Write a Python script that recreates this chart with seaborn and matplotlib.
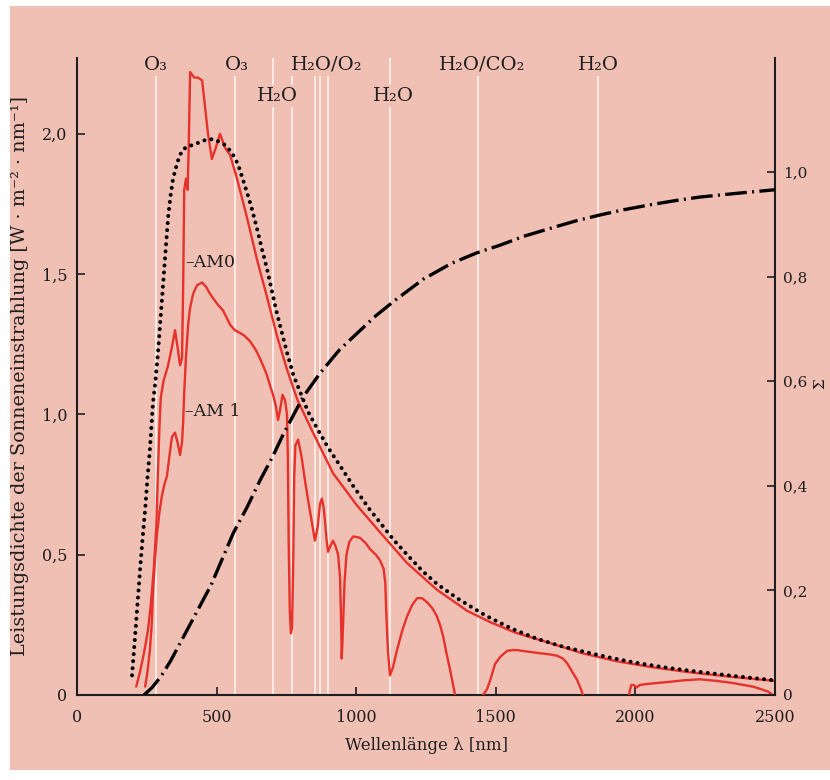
import numpy as np
import pandas as pd
import seaborn as sns
import matplotlib.pyplot as plt
from matplotlib.patches import Rectangle

# --- Daten ---
# AM0 Spektrum (nm, W m^-2 nm^-1)
am0_nm = [212, 225, 240, 254, 265, 275, 284, 290, 295, 300, 310, 325, 340, 351, 360, 369, 376, 380,
          384, 390, 396, 400, 405, 420, 433, 448, 458, 469, 483, 497, 512, 530, 548, 573, 609, 645,
          680, 716, 752, 790, 845, 917, 1003, 1085, 1182, 1289, 1397, 1479, 1570, 1694, 1812, 1934,
          2052, 2200, 2350, 2500]
am0_val = [0.03, 0.08, 0.15, 0.23, 0.33, 0.45, 0.60, 0.80, 0.95, 1.06, 1.12, 1.17, 1.24, 1.30, 1.24,
           1.175, 1.20, 1.45, 1.80, 1.84, 1.80, 1.95, 2.22, 2.20, 2.20, 2.19, 2.10, 2.00, 1.91, 1.95,
           2.00, 1.95, 1.925, 1.84, 1.70, 1.55, 1.42, 1.28, 1.16, 1.05, 0.935, 0.79, 0.675, 0.58,
           0.47, 0.375, 0.30, 0.26, 0.222, 0.185, 0.148, 0.12, 0.10, 0.08, 0.064, 0.05]

# AM1 Spektrum, drei Abschnitte (Absorptionsluecken dazwischen)
am1_nm_1 = [244, 252, 261, 268, 272, 279, 286, 295, 304, 313, 322, 332, 340, 351, 360, 369, 376, 380,
            384, 390, 398, 405, 416, 430, 448, 462, 476, 490, 505, 523, 548, 565, 584, 600, 620, 640,
            655, 668, 680, 692, 702, 712, 720, 728, 736, 745, 752, 755, 758, 762, 766, 770, 774, 778,
            782, 792, 804, 817, 830, 842, 852, 862, 870, 877, 883, 888, 894, 899, 907, 917, 926, 935,
            942, 946, 948, 951, 958, 965, 975, 989, 1014, 1035, 1049, 1070, 1085, 1098, 1104, 1108,
            1114, 1121, 1132, 1146, 1165, 1182, 1200, 1218, 1236, 1254, 1272, 1289, 1300, 1311, 1323,
            1336, 1346, 1354]
am1_val_1 = [0.03, 0.08, 0.16, 0.26, 0.37, 0.48, 0.57, 0.65, 0.71, 0.75, 0.78, 0.86, 0.92, 0.935, 0.90,
             0.855, 0.90, 0.97, 1.08, 1.20, 1.32, 1.38, 1.43, 1.46, 1.47, 1.455, 1.43, 1.41, 1.39, 1.37,
             1.32, 1.30, 1.29, 1.28, 1.26, 1.23, 1.20, 1.17, 1.14, 1.10, 1.07, 1.03, 0.98, 1.02, 1.07,
             1.05, 1.00, 0.85, 0.55, 0.30, 0.22, 0.24, 0.45, 0.78, 0.89, 0.91, 0.85, 0.76, 0.68, 0.61,
             0.55, 0.60, 0.68, 0.70, 0.67, 0.62, 0.55, 0.51, 0.53, 0.55, 0.53, 0.50, 0.42, 0.25, 0.13,
             0.20, 0.40, 0.50, 0.545, 0.565, 0.56, 0.54, 0.52, 0.50, 0.48, 0.45, 0.40, 0.28, 0.15, 0.07,
             0.10, 0.16, 0.23, 0.28, 0.32, 0.345, 0.345, 0.33, 0.31, 0.28, 0.25, 0.21, 0.15, 0.09, 0.04,
             0.0]
am1_nm_2 = [1454, 1468, 1479, 1497, 1515, 1540, 1560, 1576, 1610, 1648, 1690, 1719, 1740, 1755, 1775,
            1791, 1805, 1812]
am1_val_2 = [0.0, 0.02, 0.05, 0.11, 0.135, 0.157, 0.16, 0.16, 0.155, 0.15, 0.145, 0.14, 0.13, 0.114,
             0.08, 0.054, 0.02, 0.0]
am1_nm_3 = [1977, 1981, 1985, 1995, 2005, 2016, 2050, 2113, 2170, 2231, 2292, 2340, 2375, 2420, 2446,
            2475, 2493]
am1_val_3 = [0.0, 0.02, 0.036, 0.035, 0.027, 0.036, 0.04, 0.046, 0.052, 0.056, 0.05, 0.044, 0.038,
             0.03, 0.022, 0.012, 0.0]

# Schwarzer Strahler (punktiert)
bb_nm = [197, 208, 217, 226, 235, 244, 252, 261, 272, 281, 290, 299, 308, 317, 326, 335, 344, 360, 376,
         395, 416, 440, 466, 490, 512, 530, 548, 562, 577, 593, 609, 627, 645, 662, 680, 698, 716, 734,
         752, 775, 799, 827, 860, 900, 940, 989, 1049, 1085, 1132, 1182, 1239, 1290, 1361, 1443, 1479,
         1560, 1648, 1730, 1812, 1900, 2000, 2113, 2230, 2350, 2500]
bb_val = [0.07, 0.21, 0.33, 0.45, 0.56, 0.66, 0.77, 0.875, 1.04, 1.12, 1.22, 1.34, 1.46, 1.58, 1.70,
          1.78, 1.84, 1.90, 1.94, 1.955, 1.96, 1.97, 1.98, 1.98, 1.97, 1.96, 1.94, 1.92, 1.89, 1.84,
          1.79, 1.73, 1.66, 1.59, 1.52, 1.44, 1.36, 1.29, 1.22, 1.14, 1.08, 1.01, 0.95, 0.88, 0.82,
          0.745, 0.66, 0.615, 0.555, 0.50, 0.44, 0.395, 0.345, 0.295, 0.275, 0.235, 0.20, 0.175,
          0.155, 0.135, 0.115, 0.097, 0.082, 0.068, 0.052]

# kumulierter Anteil (rechte Achse, strichpunktiert)
cum_nm = [240, 270, 300, 335, 370, 420, 480, 520, 560, 610, 655, 700, 740, 775, 810, 870, 940, 1000,
          1070, 1140, 1240, 1340, 1430, 1515, 1600, 1700, 1790, 1875, 1960, 2050, 2140, 2230, 2360, 2500]
cum_val = [0.0, 0.015, 0.035, 0.065, 0.10, 0.15, 0.21, 0.26, 0.31, 0.36, 0.41, 0.455, 0.50, 0.535,
           0.57, 0.615, 0.66, 0.69, 0.725, 0.755, 0.795, 0.825, 0.845, 0.86, 0.877, 0.893, 0.907,
           0.918, 0.928, 0.937, 0.945, 0.952, 0.959, 0.966]

# Absorptionsbanden
band_nm = [283, 566, 702, 770, 852, 870, 899, 1121, 1436, 1866]
band_labels = ['O₃', 'O₃', 'H₂O', 'H₂O/O₂', 'H₂O', 'H₂O/CO₂', 'H₂O']
band_label_x = [283, 573, 718, 895, 1132, 1450, 1866]
band_label_row = [0, 0, 1, 0, 1, 0, 0]

PINK = '#f1c0b5'
RED = '#e6322b'
INK = '#1e1e1e'

sns.set_theme(style='ticks')
plt.rcParams['font.family'] = ['DejaVu Serif']

fig = plt.figure(figsize=(8.3, 7.8), dpi=100)
fig.patch.set_facecolor('white')
fig.patches.append(Rectangle((0.012, 0.013), 0.988, 0.979, transform=fig.transFigure,
                             facecolor=PINK, edgecolor='none', zorder=-10))

ax = fig.add_axes([0.0928, 0.109, 0.841, 0.8167])
ax.set_facecolor('none')

for nm in band_nm:
    ax.axvline(nm, color='#fdeee9', lw=1.3, zorder=1)

am1_df = pd.concat([
    pd.DataFrame({'nm': am1_nm_1, 'val': am1_val_1, 'seg': 1}),
    pd.DataFrame({'nm': am1_nm_2, 'val': am1_val_2, 'seg': 2}),
    pd.DataFrame({'nm': am1_nm_3, 'val': am1_val_3, 'seg': 3}),
])
sns.lineplot(data=am1_df, x='nm', y='val', units='seg', estimator=None, color=RED, lw=1.7,
             ax=ax, zorder=3)
sns.lineplot(x=am0_nm, y=am0_val, color=RED, lw=1.7, ax=ax, zorder=3)
sns.lineplot(x=bb_nm, y=bb_val, color='black', lw=2.9, ax=ax, zorder=4,
             linestyle=(0, (0.01, 1.75)), dash_capstyle='round')

ax.set_xlim(0, 2500)
ax.set_ylim(0, 2.27)
ax.set_xticks([0, 500, 1000, 1500, 2000, 2500])
ax.set_xticklabels(['0', '500', '1000', '1500', '2000', '2500'])
ax.set_yticks([0, 0.5, 1.0, 1.5, 2.0])
ax.set_yticklabels(['0', '0,5', '1,0', '1,5', '2,0'])
ax.tick_params(direction='in', length=6, width=1.2, labelsize=11.5, colors=INK, pad=7)
ax.tick_params(axis='x', pad=10)
for s in ['top', 'right']:
    ax.spines[s].set_visible(False)
for s in ['left', 'bottom']:
    ax.spines[s].set_linewidth(1.5)
    ax.spines[s].set_color(INK)
ax.set_xlabel('Wellenlänge λ [nm]', fontsize=12, labelpad=8, color=INK)
ax.set_ylabel('Leistungsdichte der Sonneneinstrahlung [W · m⁻² · nm⁻¹]', fontsize=13.8,
              labelpad=9, color=INK)

for lab, x, row in zip(band_labels, band_label_x, band_label_row):
    y = 2.245 if row == 0 else 2.135
    ax.text(x, y, lab, ha='center', va='center', fontsize=14, color=INK, zorder=5,
            bbox=dict(boxstyle='square,pad=0.1', facecolor=PINK, edgecolor='none'))

ax.text(386, 1.54, '–AM0', ha='left', va='center', fontsize=12.5, color=INK, zorder=5)
ax.text(386, 1.01, '–AM 1', ha='left', va='center', fontsize=12.5, color=INK, zorder=5)

ax2 = ax.twinx()
ax2.set_facecolor('none')
sns.lineplot(x=cum_nm, y=cum_val, color='black', lw=2.4, ax=ax2, zorder=4,
             linestyle=(0, (6.5, 1.6, 0.6, 1.6)))
ax2.set_ylim(0, 1.218)
ax2.set_yticks([0, 0.2, 0.4, 0.6, 0.8, 1.0])
ax2.set_yticklabels(['0', '0,2', '0,4', '0,6', '0,8', '1,0'])
ax2.tick_params(direction='in', length=6, width=1.2, labelsize=11, colors=INK, pad=6)
for s in ['top', 'left', 'bottom']:
    ax2.spines[s].set_visible(False)
ax2.spines['right'].set_linewidth(1.5)
ax2.spines['right'].set_color(INK)
ax2.set_ylabel('')
ax2.set_xlim(0, 2500)

fig.text(0.9885, 0.508, 'Σ', rotation=90, ha='center', va='center', fontsize=11, color=INK)

fig.savefig('out.png', dpi=100, facecolor=fig.get_facecolor())
